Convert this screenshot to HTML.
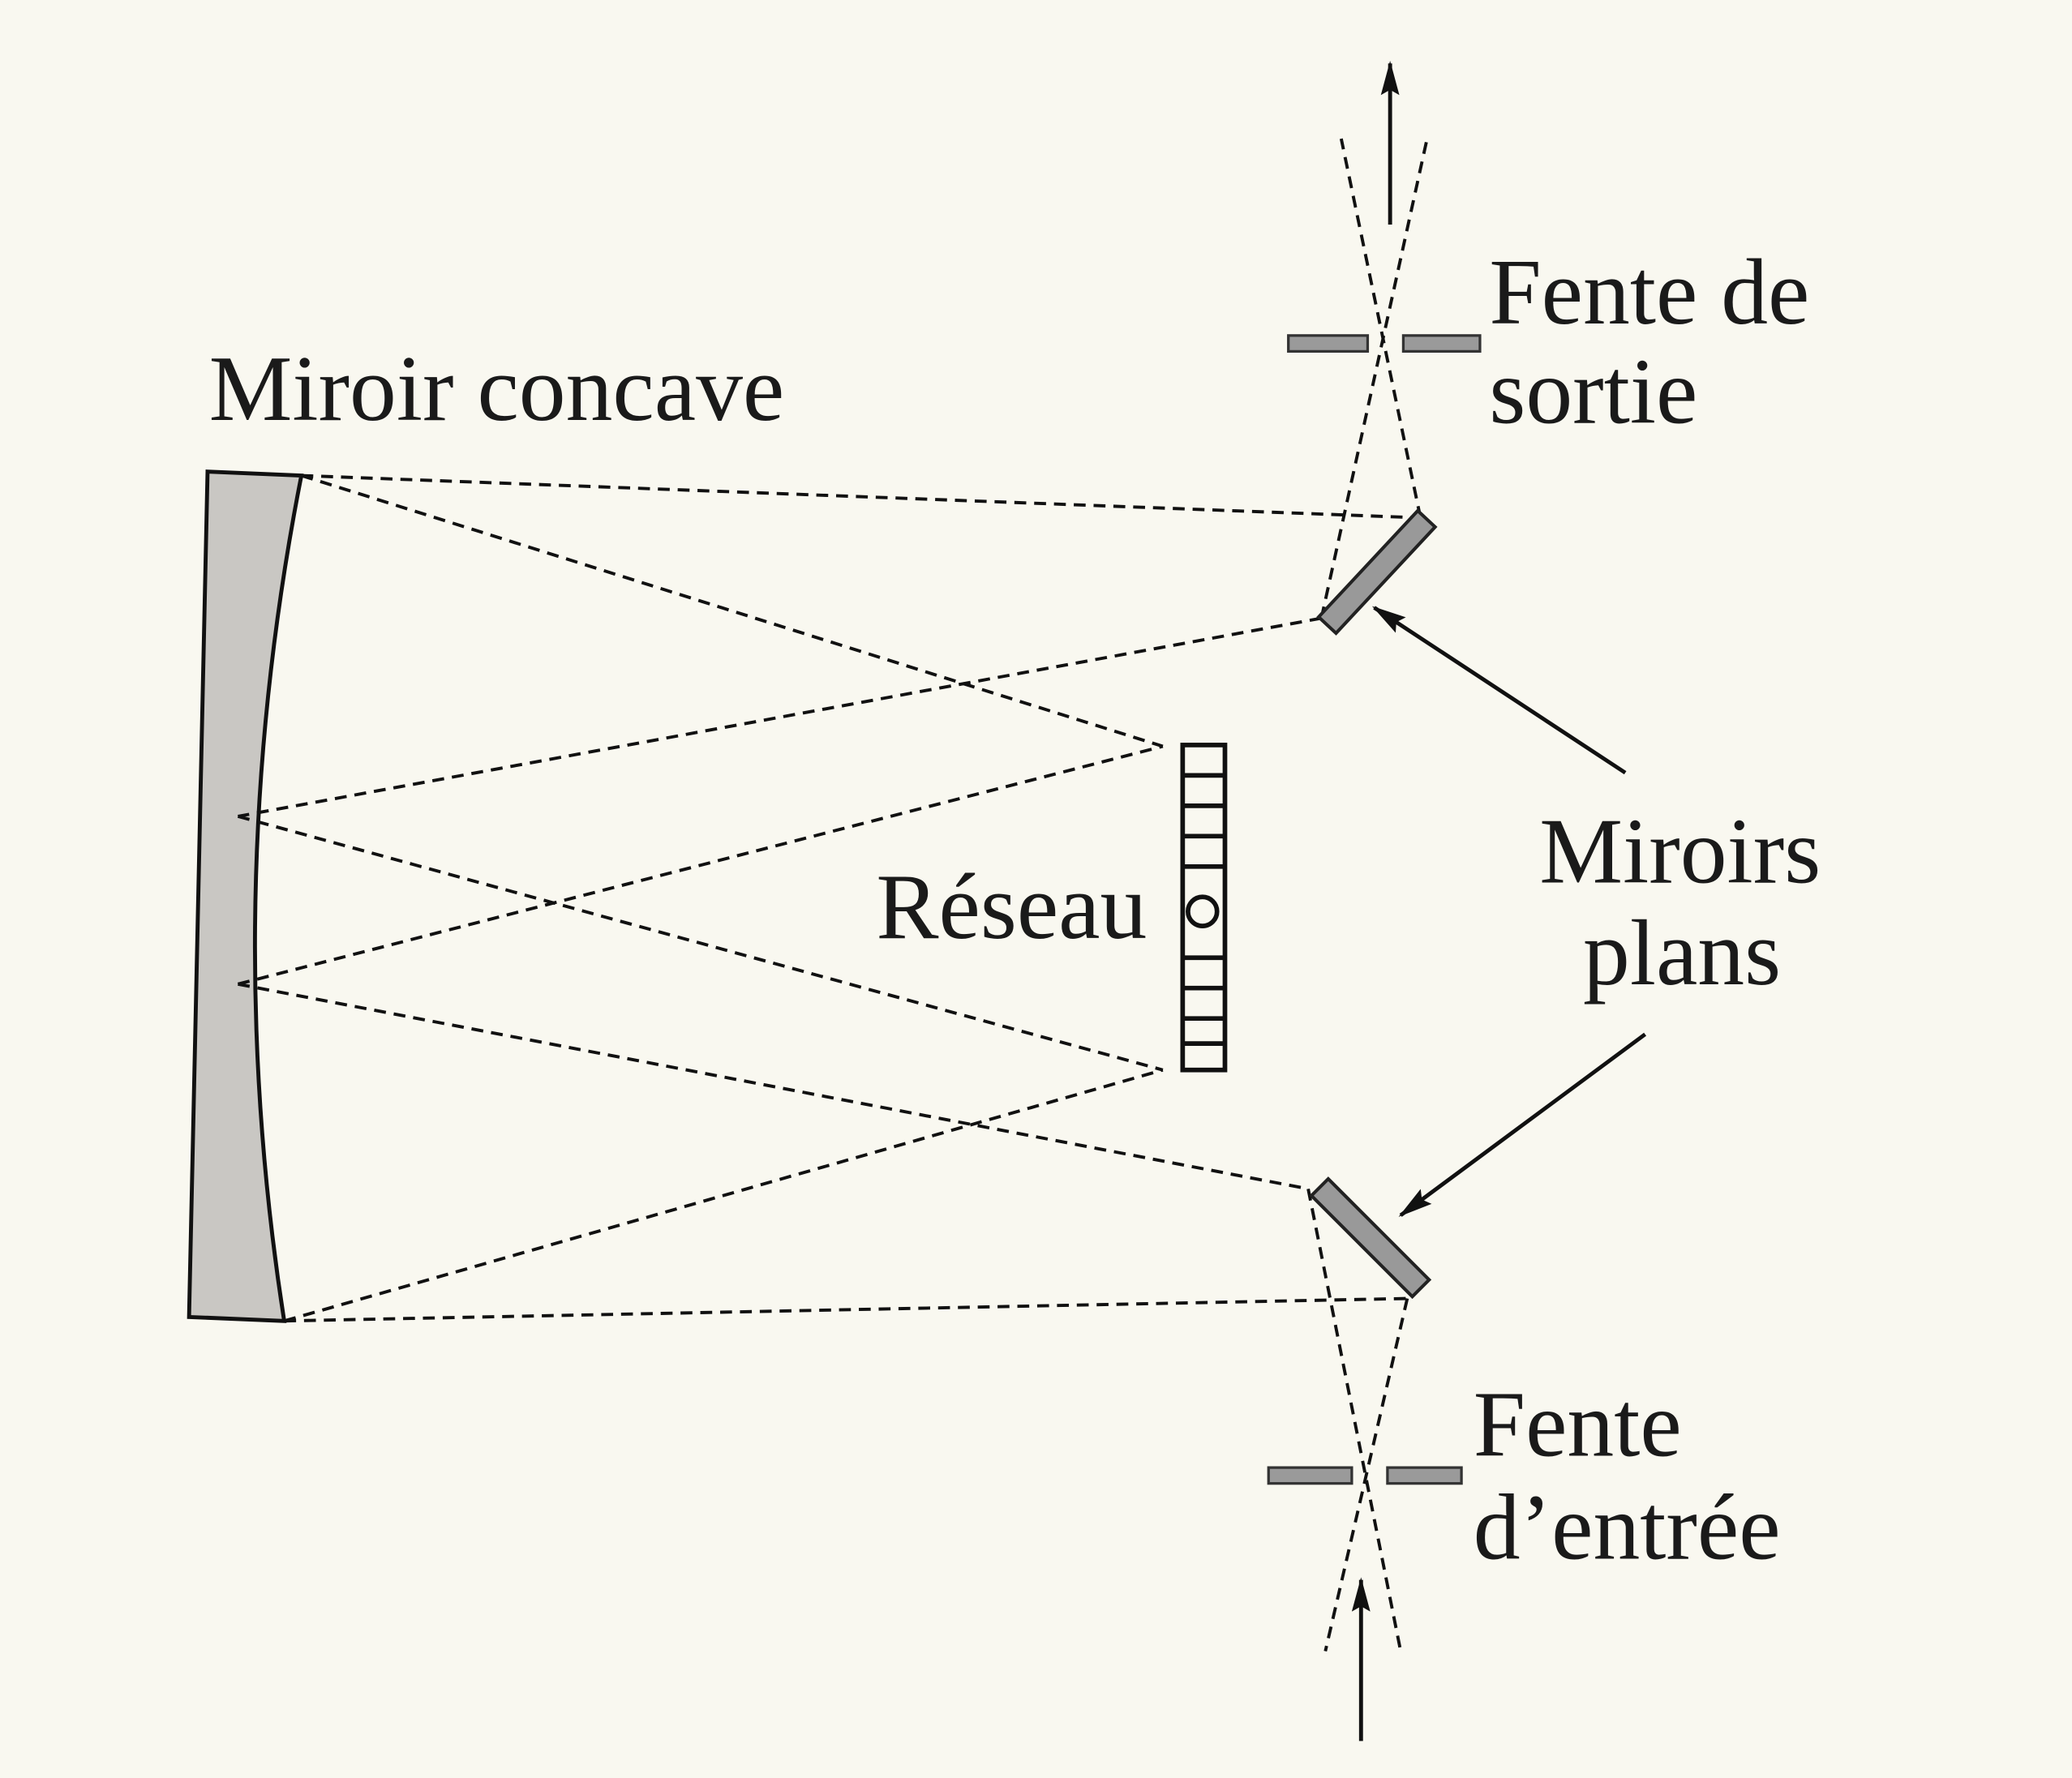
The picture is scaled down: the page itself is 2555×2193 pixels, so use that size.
<!DOCTYPE html>
<html><head><meta charset="utf-8"><style>
html,body{margin:0;padding:0;background:#f8f6ee;}
svg{display:block;}
text{font-family:"Liberation Serif",serif;fill:#1a1a1a;}
</style></head><body>
<svg width="2555" height="2193" viewBox="0 0 1568 1346">
<defs>
<marker id="ah2" markerWidth="26" markerHeight="30" refX="24" refY="7" orient="auto" markerUnits="userSpaceOnUse" viewBox="0 0 26 14">
<path d="M0,0 L26,7 L0,14 L4,7 z" fill="#111"/></marker>
</defs>
<rect width="1568" height="1346" fill="#f9f8f0"/>
<path d="M157,357 L228,360 Q165,680 215,1000 L143,997 Z" fill="#c9c7c3" stroke="#111" stroke-width="3"/>
<g stroke="#111" stroke-width="2.4" stroke-dasharray="9,6" fill="none">
<line x1="228" y1="360" x2="1075" y2="392"/>
<line x1="228" y1="360" x2="880" y2="565"/>
<line x1="1000" y1="468" x2="180" y2="618"/>
<line x1="180" y1="618" x2="880" y2="810"/>
<line x1="180" y1="745" x2="880" y2="565"/>
<line x1="180" y1="745" x2="990" y2="900"/>
<line x1="215" y1="1000" x2="880" y2="810"/>
<line x1="215" y1="1000" x2="1065" y2="983"/>
<line x1="1075" y1="392" x2="1015" y2="105"/>
<line x1="1000" y1="468" x2="1080" y2="105"/>
<line x1="1065" y1="983" x2="1003" y2="1250"/>
<line x1="990" y1="900" x2="1060" y2="1250"/>
</g>
<g transform="translate(1042,433) rotate(-47)"><rect x="-55" y="-9" width="110" height="18" fill="#999" stroke="#222" stroke-width="2.5"/></g>
<g transform="translate(1037,937) rotate(45)"><rect x="-54" y="-9" width="108" height="18" fill="#999" stroke="#222" stroke-width="2.5"/></g>
<g fill="#9a9a9a" stroke="#333" stroke-width="2">
<rect x="975" y="254" width="60" height="12"/><rect x="1062" y="254" width="58" height="12"/></g>
<g fill="#9a9a9a" stroke="#333" stroke-width="2">
<rect x="960" y="1111" width="63" height="12"/><rect x="1050" y="1111" width="56" height="12"/></g>
<g stroke="#111" stroke-width="3.5" fill="#f9f8f0">
<rect x="895" y="564" width="32" height="246"/>
<line x1="895" y1="587" x2="927" y2="587"/><line x1="895" y1="610" x2="927" y2="610"/>
<line x1="895" y1="633" x2="927" y2="633"/><line x1="895" y1="656" x2="927" y2="656"/>
<line x1="895" y1="725" x2="927" y2="725"/><line x1="895" y1="748" x2="927" y2="748"/>
<line x1="895" y1="771" x2="927" y2="771"/><line x1="895" y1="790" x2="927" y2="790"/>
<circle cx="910" cy="690" r="11"/></g>
<g stroke="#111" stroke-width="3">
<line x1="1052" y1="170" x2="1052" y2="48" marker-end="url(#ah2)"/>
<line x1="1030" y1="1318" x2="1030" y2="1196" marker-end="url(#ah2)"/>
<line x1="1230" y1="585" x2="1040" y2="460" marker-end="url(#ah2)"/>
<line x1="1245" y1="783" x2="1060" y2="920" marker-end="url(#ah2)"/>
</g>
<g font-size="71">
<text x="158" y="318">Miroir concave</text>
<text x="1127" y="245">Fente de</text>
<text x="1127" y="320">sortie</text>
<text x="1165" y="668">Miroirs</text>
<text x="1198" y="745">plans</text>
<text x="663" y="710">Réseau</text>
<text x="1115" y="1102">Fente</text>
<text x="1115" y="1180">d’entrée</text>
</g>
</svg>
</body></html>
